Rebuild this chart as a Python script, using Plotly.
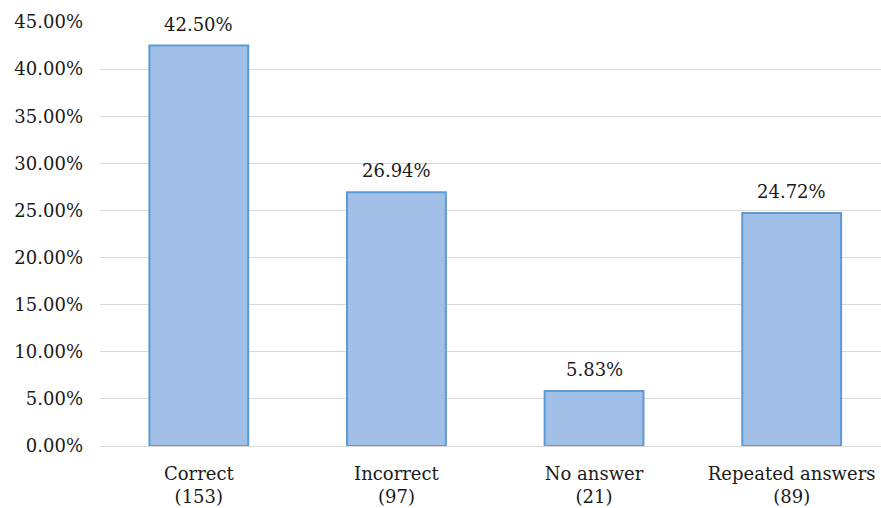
import plotly.graph_objects as go

categories = ["Correct<br>(153)", "Incorrect<br>(97)", "No answer<br>(21)", "Repeated answers<br>(89)"]
percent_values = [42.50, 26.94, 5.83, 24.72]
bar_labels = ["42.50%", "26.94%", "5.83%", "24.72%"]
y_tick_values = [0, 5, 10, 15, 20, 25, 30, 35, 40, 45]
y_tick_labels = ["0.00%", "5.00%", "10.00%", "15.00%", "20.00%", "25.00%", "30.00%", "35.00%", "40.00%", "45.00%"]

FONT = "DejaVu Serif"
FS = 18

fig = go.Figure()
fig.add_trace(go.Bar(
    x=categories,
    y=percent_values,
    width=0.5,
    marker=dict(color="#a2bfe7", line=dict(color="#5b9bd5", width=2)),
    hoverinfo="skip",
))

for c, v, t in zip(categories, percent_values, bar_labels):
    fig.add_annotation(x=c, y=v, text=t, showarrow=False, yanchor="bottom",
                       yshift=9, font=dict(family=FONT, size=FS, color="#1a1a1a"))

fig.update_layout(
    width=881, height=508,
    margin=dict(l=100, r=0, t=22, b=62),
    paper_bgcolor="white", plot_bgcolor="white",
    showlegend=False,
    font=dict(family=FONT, size=FS, color="#1a1a1a"),
)
fig.update_xaxes(
    range=[-0.5, 3.452],
    showgrid=False, showline=False, zeroline=False,
    ticks="", ticklabelstandoff=15,
    tickfont=dict(family=FONT, size=FS, color="#1a1a1a"),
)
fig.update_yaxes(
    range=[0, 45],
    tickvals=y_tick_values, ticktext=y_tick_labels,
    showgrid=True, gridcolor="#d9d9d9", gridwidth=1,
    zeroline=True, zerolinecolor="#d9d9d9", zerolinewidth=1,
    showline=False, ticks="", ticklabelstandoff=16,
    tickfont=dict(family=FONT, size=FS, color="#1a1a1a"),
)

fig.write_html("out.html")
